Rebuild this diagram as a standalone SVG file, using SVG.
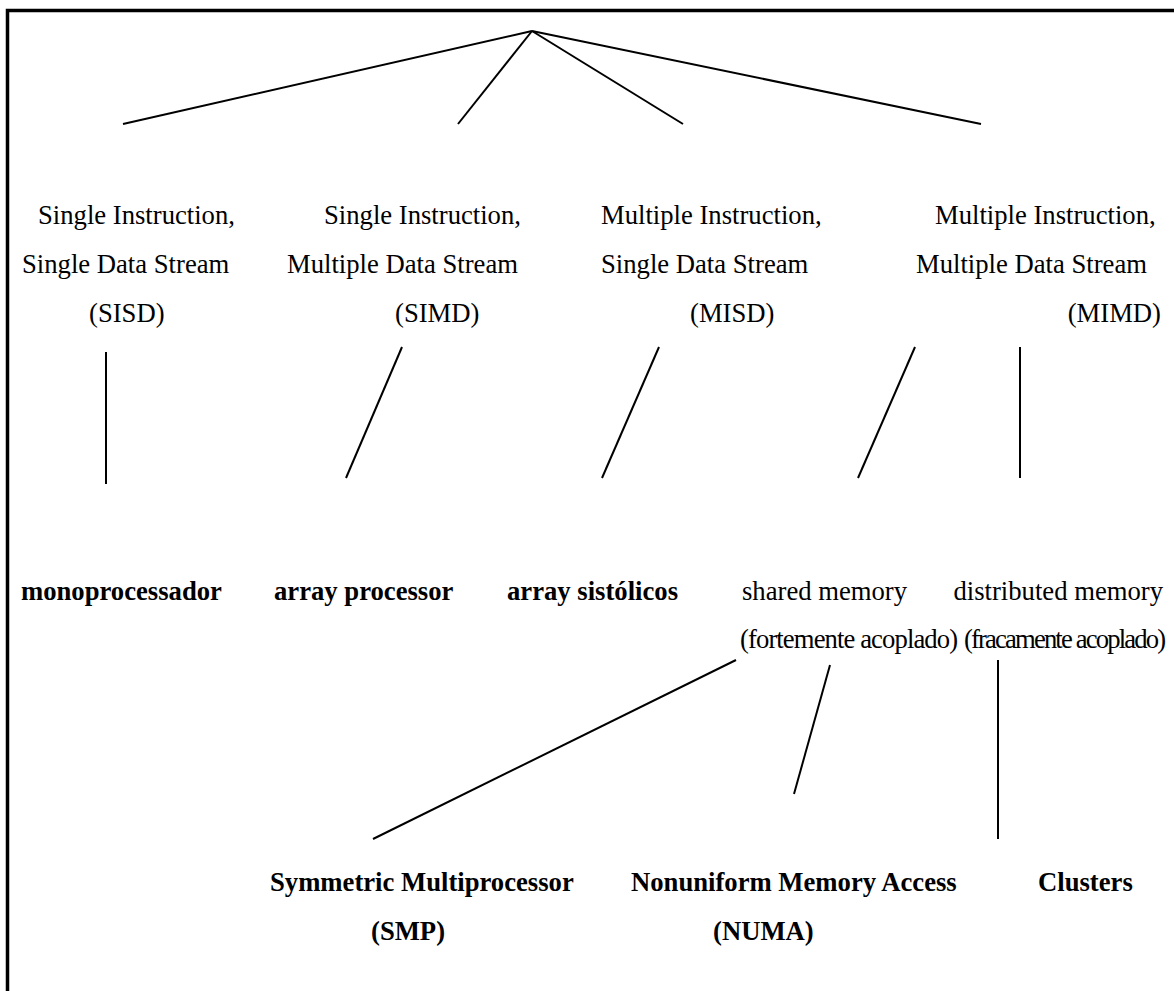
<svg xmlns="http://www.w3.org/2000/svg" width="1174" height="991" viewBox="0 0 1174 991">
<style>
text{font-family:"Liberation Serif","Times New Roman",serif;font-size:26.67px;fill:#000}
.b{font-weight:bold}
.e{text-anchor:end}
.c1{letter-spacing:-0.9px}
.c2{letter-spacing:-1.85px}
line,path{stroke:#000;stroke-width:2;fill:none}
.frame{stroke-width:3.5}
</style>
<rect width="1174" height="991" fill="#fff"/>
<path class="frame" d="M7.5,991 V10.5 H1174"/>
<g id="connectors">
<line x1="532" y1="31" x2="123" y2="124"/>
<line x1="532" y1="31" x2="458" y2="124"/>
<line x1="532" y1="31" x2="683" y2="124"/>
<line x1="532" y1="31" x2="981" y2="124"/>
<line x1="106" y1="352" x2="106" y2="484"/>
<line x1="402" y1="347" x2="346" y2="478"/>
<line x1="659" y1="347" x2="602" y2="478"/>
<line x1="915" y1="347" x2="858" y2="478"/>
<line x1="1020" y1="347" x2="1020" y2="478"/>
<line x1="736" y1="660" x2="373" y2="839"/>
<line x1="830" y1="665" x2="794" y2="794"/>
<line x1="998" y1="660" x2="998" y2="839"/>
</g>
<g id="sisd">
<text x="38" y="224">Single Instruction,</text>
<text x="22" y="273">Single Data Stream</text>
<text x="89" y="322">(SISD)</text>
</g>
<g id="simd">
<text x="324" y="224">Single Instruction,</text>
<text x="287" y="273">Multiple Data Stream</text>
<text x="395" y="322">(SIMD)</text>
</g>
<g id="misd">
<text x="601" y="224">Multiple Instruction,</text>
<text x="601" y="273">Single Data Stream</text>
<text x="690" y="322">(MISD)</text>
</g>
<g id="mimd">
<text x="935" y="224">Multiple Instruction,</text>
<text x="916" y="273">Multiple Data Stream</text>
<text class="e" x="1161" y="322">(MIMD)</text>
</g>
<g id="monoprocessador">
<text class="b" x="21" y="600">monoprocessador</text>
</g>
<g id="array-processor">
<text class="b" x="274" y="600">array processor</text>
</g>
<g id="array-sistolicos">
<text class="b" x="507" y="600">array sistólicos</text>
</g>
<g id="shared-memory">
<text x="742" y="600">shared memory</text>
<text class="c1" x="740" y="648">(fortemente acoplado)</text>
</g>
<g id="distributed-memory">
<text class="e" x="1163" y="600">distributed memory</text>
<text class="c2" x="964" y="648">(fracamente acoplado)</text>
</g>
<g id="smp">
<text class="b" x="270" y="891">Symmetric Multiprocessor</text>
<text class="b" x="371" y="940">(SMP)</text>
</g>
<g id="numa">
<text class="b" x="631" y="891">Nonuniform Memory Access</text>
<text class="b" x="713" y="940">(NUMA)</text>
</g>
<g id="clusters">
<text class="b" x="1038" y="891">Clusters</text>
</g>
</svg>
